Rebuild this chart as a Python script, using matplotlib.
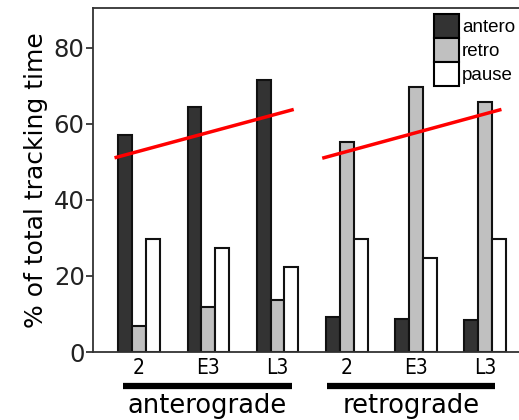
import matplotlib.pyplot as plt
from matplotlib.patches import Patch
import numpy as np

# data
stages = ['2', 'E3', 'L3', '2', 'E3', 'L3']
groups = ['anterograde', 'retrograde']
antero = [57, 64.5, 71.5, 9.2, 8.7, 8.3]
retro = [6.8, 11.8, 13.8, 55.2, 69.8, 65.8]
pause = [29.8, 27.4, 22.4, 29.8, 24.6, 29.8]

# red trend lines (start/end), one per group
trend_x = [[0.67, 3.21], [3.67, 6.21]]
trend_y = [[51.2, 63.7], [51.1, 63.7]]

plt.rcParams['font.family'] = ['DejaVu Sans']

fig = plt.figure(figsize=(5.19, 4.2), dpi=100)
ax = fig.add_axes([93 / 519, 68 / 420, 440 / 519, 344 / 420])

x = np.arange(1, len(stages) + 1)
w = 0.2
ax.bar(x - w, antero, w, color='#333333', edgecolor='#111111', linewidth=1.5, zorder=2)
ax.bar(x, retro, w, color='#c0c0c0', edgecolor='#111111', linewidth=1.5, zorder=2)
ax.bar(x + w, pause, w, color='white', edgecolor='#111111', linewidth=1.5, zorder=2)

for tx, ty in zip(trend_x, trend_y):
    ax.plot(tx, ty, color='red', linewidth=2.5, zorder=3)

ax.set_xlim(0.335, 6.69)
ax.set_ylim(0, 90.5)
ax.set_yticks([0, 20, 40, 60, 80])
ax.tick_params(axis='y', labelsize=17.5, length=5, width=1.2, pad=1, colors='#222222')
ax.set_xticks(x)
ax.set_xticklabels(stages, fontsize=15, fontstretch='condensed')
ax.tick_params(axis='x', length=0, pad=4)
for s in ax.spines.values():
    s.set_linewidth(1.3)
    s.set_color('#333333')
ax.spines['right'].set_visible(False)
ax.set_ylabel('% of total tracking time', fontsize=18, labelpad=4)

# group underlines and names below the axis
trans = ax.get_xaxis_transform()
spans = [(0.77, 3.21), (3.72, 6.14)]
for (x0, x1), name in zip(spans, groups):
    ax.plot([x0, x1], [-0.1, -0.1], color='black', linewidth=4.5,
            transform=trans, clip_on=False, solid_capstyle='butt')
    ax.text((x0 + x1) / 2, -0.157, name, transform=trans, fontsize=18.5,
            ha='center', va='center')

handles = [Patch(facecolor='#333333', edgecolor='black', linewidth=1.5),
           Patch(facecolor='#c0c0c0', edgecolor='black', linewidth=1.5),
           Patch(facecolor='white', edgecolor='black', linewidth=1.5)]
fig.legend(handles, ['antero', 'retro', 'pause'], loc='upper left',
           bbox_to_anchor=(434 / 519, 1 - 14 / 420), frameon=False,
           prop={'family': 'Liberation Sans', 'size': 13.5},
           handlelength=1.35, handleheight=1.6, labelspacing=0.0,
           handletextpad=0.15, borderpad=0, borderaxespad=0)

fig.savefig('out.png', dpi=100)
